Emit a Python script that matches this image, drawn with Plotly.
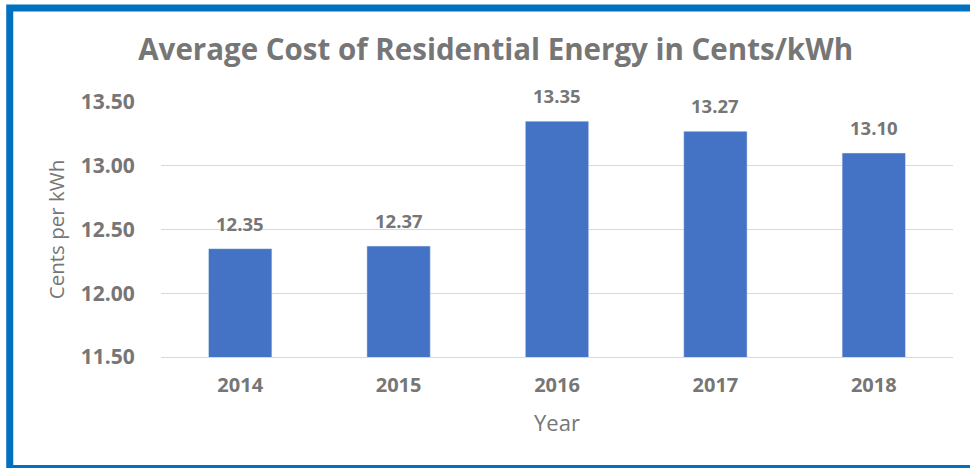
import plotly.graph_objects as go

years = ["2014", "2015", "2016", "2017", "2018"]
costs = [12.35, 12.37, 13.35, 13.27, 13.10]
y_ticks = [11.5, 12.0, 12.5, 13.0, 13.5]
y_tick_labels = ["<b>11.50</b>", "<b>12.00</b>", "<b>12.50</b>", "<b>13.00</b>", "<b>13.50</b>"]

TXT = "#767676"
FONT = "Open Sans"

fig = go.Figure()
fig.add_trace(go.Bar(
    x=years, y=costs, marker_color="#4472C4",
    hovertemplate="%{x}: %{y:.2f}<extra></extra>",
))

for i, v in enumerate(costs):
    fig.add_annotation(
        x=i, y=v, xref="x", yref="y", text=f"<b>{v:.2f}</b>", showarrow=False,
        yanchor="bottom", yshift=11,
        font=dict(family=FONT, size=18.5, color=TXT),
    )

fig.update_layout(
    width=970, height=468,
    margin=dict(l=161, r=17, t=102, b=111),
    paper_bgcolor="white", plot_bgcolor="white",
    showlegend=False,
    bargap=0.6,
    title=dict(
        text="<b>Average Cost of Residential Energy in Cents/kWh</b>",
        x=0.511, xanchor="center", y=0.894, yanchor="middle",
        font=dict(family=FONT, size=29.5, color=TXT),
    ),
    xaxis=dict(
        range=[-0.5, 4.5],
        showgrid=False, showline=True, linecolor="#D9D9D9", linewidth=1,
        tickfont=dict(family=FONT, size=20, color=TXT),
        tickprefix="<b>", ticksuffix="</b>",
        ticks="outside", ticklen=10, tickcolor="rgba(0,0,0,0)",
        title=dict(text="Year", standoff=18,
                   font=dict(family=FONT, size=22, color=TXT)),
    ),
    yaxis=dict(
        range=[11.5, 13.5],
        tickvals=y_ticks, ticktext=y_tick_labels,
        showgrid=True, gridcolor="#D9D9D9", gridwidth=1,
        zeroline=False, showline=False,
        tickfont=dict(family=FONT, size=21, color=TXT),
        ticks="outside", ticklen=21, tickcolor="rgba(0,0,0,0)",
        title=dict(text="Cents per kWh", standoff=10,
                   font=dict(family=FONT, size=20.5, color=TXT)),
    ),
)

fig.add_shape(
    type="rect", xref="paper", yref="paper",
    x0=-0.191, x1=1.06, y0=-0.437, y1=1.3686,
    line=dict(color="#0070C0", width=7), fillcolor="rgba(0,0,0,0)",
    layer="above",
)

fig.write_html("out.html", config={"displayModeBar": False},
               post_script="document.body.style.margin='0';")
